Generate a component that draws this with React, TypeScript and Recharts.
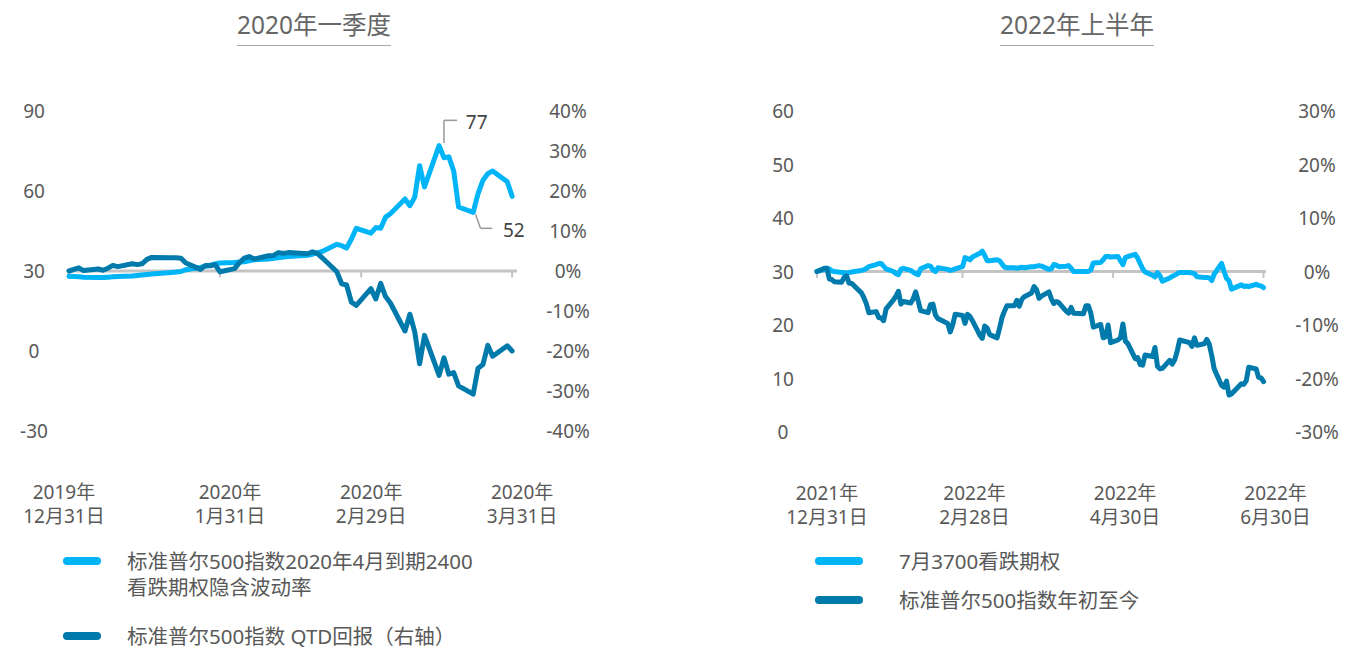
import React from 'react'
import { LineChart, Line, XAxis, YAxis, ReferenceLine, ReferenceDot } from 'recharts'

const FONT = '"Noto Sans", "Noto Sans CJK SC", sans-serif'
const TEXT = '#595959'
const LIGHT = '#00b4f8'
const DARK = '#0079ab'
const AXIS = '#c4c4c4'

// ---- 2020 Q1 (x = calendar days since 2019-12-31, trading days only)
const q1Days = [
  0, 2, 3, 6, 7, 8, 9, 10,
  13, 14, 15, 16, 17,
  21, 22, 23, 24,
  27, 28, 29, 30, 31,
  34, 35, 36, 37, 38,
  41, 42, 43, 44, 45,
  49, 50, 51, 52,
  55, 56, 57, 58, 59,
  62, 63, 64, 65, 66,
  69, 70, 71, 72, 73,
  76, 77, 78, 79, 80,
  83, 84, 85, 86, 87,
  90, 91,
]
// S&P 500 Apr-2020 2400 put implied vol (left axis)
const q1PutVol = [
  28.0, 27.8, 27.7, 27.6, 27.6, 27.7, 27.8, 27.9,
  28.1, 28.3, 28.5, 28.7, 28.9,
  29.4, 29.6, 29.8, 30.5,
  31.3, 31.8, 32.2, 32.6, 33.0,
  33.2, 33.4, 33.5, 33.8, 34.2,
  34.5, 34.8, 35.0, 35.2, 35.4,
  35.9, 36.3, 36.8, 37.3,
  40.0, 39.5, 38.6, 42.0, 46.0,
  44.2, 46.3, 46.0, 50.2, 51.5,
  57.0, 54.5, 57.7, 69.5, 61.5,
  77.0, 72.5, 72.8, 67.5, 54.0,
  52.0, 59.0, 64.0, 66.5, 67.5,
  63.5, 58.0,
]
// S&P 500 QTD return, % (right axis)
const q1Return = [
  0, 0.8, 0.1, 0.5, 0.2, 0.7, 1.4, 1.1,
  1.8, 1.6, 1.8, 2.9, 3.4,
  3.3, 3.3, 3.2, 2.0,
  0.4, 1.4, 1.3, 1.6, -0.2,
  0.6, 2.1, 3.2, 3.6, 3.0,
  3.8, 3.9, 4.6, 4.4, 4.6,
  4.3, 4.8, 4.4, 3.3,
  -0.2, -3.2, -3.5, -7.8, -8.6,
  -4.4, -7.0, -3.1, -6.4, -8.0,
  -15.0, -10.8, -15.2, -23.2, -16.1,
  -26.1, -21.7, -25.8, -25.4, -28.7,
  -30.8, -24.3, -23.4, -18.6, -21.3,
  -18.7, -20.0,
]
const q1TickDays = [0, 31, 60, 91]
const q1TickLabels = [
  ['2019年', '12月31日'],
  ['2020年', '1月31日'],
  ['2020年', '2月29日'],
  ['2020年', '3月31日'],
]
const q1VolTicks = [-30, 0, 30, 60, 90]
const q1RetTicks = [-40, -30, -20, -10, 0, 10, 20, 30, 40]

// ---- 2022 H1 (x = calendar days since 2021-12-31, trading days only)
const h1Days = [
  0,
  3, 4, 5, 6, 7,
  10, 11, 12, 13, 14,
  18, 19, 20, 21,
  24, 25, 26, 27, 28,
  31, 32, 33, 34, 35,
  38, 39, 40, 41, 42,
  45, 46, 47, 48, 49,
  53, 54, 55, 56,
  59, 60, 61, 62, 63,
  66, 67, 68, 69, 70,
  73, 74, 75, 76, 77,
  80, 81, 82, 83, 84,
  87, 88, 89, 90, 91,
  94, 95, 96, 97, 98,
  101, 102, 103, 104,
  108, 109, 110, 111, 112,
  115, 116, 117, 118, 119,
  122, 123, 124, 125, 126,
  129, 130, 131, 132, 133,
  136, 137, 138, 139, 140,
  143, 144, 145, 146, 147,
  151, 152, 153, 154,
  157, 158, 159, 160, 161,
  164, 165, 166, 167, 168,
  172, 173, 174, 175,
  178, 179, 180, 181,
]
// July 3700 put implied vol (left axis)
const h1PutVol = [
  30.0,
  30.4, 30.6, 30.5, 30.1, 30.0,
  29.8, 29.8, 29.7, 29.8, 29.9,
  30.2, 30.3, 30.6, 30.9,
  31.3, 31.5, 31.5, 31.0, 30.5,
  30.0, 29.6, 29.4, 30.4, 30.6,
  30.2, 29.9, 29.6, 29.4, 30.5,
  31.1, 31.0, 30.3, 30.0, 30.7,
  30.4, 30.2, 30.3, 30.5,
  30.9, 32.6, 32.4, 32.2, 32.7,
  33.4, 33.8, 33.0, 32.0, 32.0,
  32.2, 32.0, 31.4, 30.8, 30.7,
  30.7, 30.6, 30.7, 30.8, 30.7,
  30.9, 30.9, 31.0, 31.1, 31.0,
  30.4, 30.5, 31.3, 31.2, 30.9,
  31.0, 31.1, 30.6, 30.0,
  30.0, 30.0, 30.0, 30.3, 31.6,
  31.7, 32.2, 32.8, 32.8, 32.7,
  32.8, 32.0, 31.3, 32.6, 32.8,
  33.2, 32.5, 31.5, 30.5, 29.9,
  29.3, 29.0, 29.8, 29.2, 28.2,
  28.8, 29.1, 29.3, 29.6, 29.8,
  29.8, 29.7, 29.6, 29.0,
  28.9, 28.9, 28.8, 28.3, 29.5,
  31.5, 30.0, 28.7, 28.3, 26.7,
  27.5, 27.2, 27.3, 27.2,
  27.6, 27.4, 27.3, 27.0,
]
// S&P 500 YTD return, % (right axis)
const h1Return = [
  0,
  0.6, 0.6, -1.4, -1.5, -1.9,
  -2.0, -1.1, -0.8, -2.2, -2.2,
  -4.0, -4.9, -6.0, -7.7,
  -7.5, -8.6, -8.7, -9.2, -7.0,
  -5.3, -4.6, -3.7, -6.1, -5.6,
  -5.9, -5.1, -3.8, -5.5, -7.3,
  -7.7, -6.2, -6.1, -8.1, -8.8,
  -9.7, -11.3, -10.0, -8.0,
  -8.2, -9.7, -8.0, -8.4, -9.2,
  -11.9, -12.5, -10.2, -10.6, -11.8,
  -12.4, -10.6, -8.6, -7.4, -6.4,
  -6.4, -5.4, -6.5, -5.2, -4.7,
  -4.0, -2.8, -3.4, -5.0, -4.6,
  -3.8, -5.1, -6.0, -5.6, -5.8,
  -7.4, -7.8, -6.7, -7.8,
  -7.9, -6.4, -6.4, -7.8, -10.4,
  -9.9, -12.4, -12.2, -10.0, -13.3,
  -12.8, -12.4, -9.8, -13.0, -13.5,
  -16.3, -16.1, -17.4, -17.5, -15.6,
  -15.9, -14.2, -17.7, -18.2, -18.1,
  -16.6, -17.3, -16.5, -14.9, -12.8,
  -13.3, -14.0, -12.4, -13.8,
  -13.5, -12.7, -13.6, -15.7, -18.2,
  -21.3, -21.6, -20.5, -23.1, -22.9,
  -21.0, -21.1, -20.4, -17.9,
  -18.2, -19.8, -19.9, -20.6,
]
const h1TickDays = [0, 59, 120, 181]
const h1TickLabels = [
  ['2021年', '12月31日'],
  ['2022年', '2月28日'],
  ['2022年', '4月30日'],
  ['2022年', '6月30日'],
]
const h1VolTicks = [0, 10, 20, 30, 40, 50, 60]
const h1RetTicks = [-30, -20, -10, 0, 10, 20, 30]

const q1Rows = q1Days.map((day, i) => ({ day, vol: q1PutVol[i], ret: q1Return[i] }))
const h1Rows = h1Days.map((day, i) => ({ day, vol: h1PutVol[i], ret: h1Return[i] }))

function YTick(props: any) {
  const { x, y, payload, dx, suffix = '' } = props
  return (
    <text x={x + dx} y={y} textAnchor="middle" dominantBaseline="central"
      fill={TEXT} fontSize={19} fontFamily={FONT}>
      {payload.value}{suffix}
    </text>
  )
}

function XTick(props: any) {
  const { x, y, payload, days, labels, firstShift, shift } = props
  const i = days.indexOf(payload.value)
  if (i < 0) return null
  const cx = x + (i === 0 ? firstShift : shift)
  return (
    <g fill={TEXT} fontSize={19} fontFamily={FONT}>
      <text x={cx} y={y + 61} textAnchor="middle" dominantBaseline="central">{labels[i][0]}</text>
      <text x={cx} y={y + 85} textAnchor="middle" dominantBaseline="central">{labels[i][1]}</text>
    </g>
  )
}

function Callout({ cx, cy, text }: any) {
  return (
    <text x={cx} y={cy} dominantBaseline="central" fill="#444" fontSize={19} fontFamily={FONT}>
      {text}
    </text>
  )
}

function Title({ center, text }: { center: number; text: string }) {
  return (
    <div style={{ position: 'absolute', left: center - 200, top: 9, width: 400, textAlign: 'center' }}>
      <span style={{
        display: 'inline-block', fontSize: 24.5, lineHeight: '31px', color: '#666',
        fontFamily: FONT, borderBottom: '1.5px solid #aaa', paddingBottom: 5,
      }}>{text}</span>
    </div>
  )
}

function LegendItem({ left, top, width, textLeft, color, lines }: any) {
  return (
    <>
      <div style={{ position: 'absolute', left, top: top - 4, width, height: 8, borderRadius: 4, background: color }} />
      <div style={{
        position: 'absolute', left: textLeft, top: top - 13, fontSize: 20.5, lineHeight: '26px',
        color: TEXT, fontFamily: FONT, whiteSpace: 'nowrap',
      }}>
        {lines.map((l: string) => <div key={l}>{l}</div>)}
      </div>
    </>
  )
}

export default function App() {
  return (
    <div style={{ position: 'absolute', left: 0, top: 0, width: 1354, height: 650, background: '#fff', overflow: 'hidden' }}>
      <Title center={314} text="2020年一季度" />
      <Title center={1077} text="2022年上半年" />

      <div style={{ position: 'absolute', left: 0, top: 0 }}>
        <LineChart width={600} height={540} data={q1Rows} margin={{ top: 111, right: 0, bottom: 9, left: 0 }}>
          <XAxis dataKey="day" type="number" domain={[0, 92]} ticks={q1TickDays} interval={0}
            axisLine={false} tickLine={false} tickSize={0} tickMargin={0} height={100}
            tick={(p: any) => <XTick {...p} days={q1TickDays} labels={q1TickLabels} firstShift={-5} shift={10} />} />
          <YAxis yAxisId="vol" orientation="left" domain={[-30, 90]} ticks={q1VolTicks} interval={0}
            width={69} axisLine={false} tickLine={false} tickSize={0} tickMargin={0}
            tick={(p: any) => <YTick {...p} dx={-35} />} />
          <YAxis yAxisId="ret" orientation="right" domain={[-40, 40]} ticks={q1RetTicks} interval={0}
            width={83} axisLine={false} tickLine={false} tickSize={0} tickMargin={0}
            tick={(p: any) => <YTick {...p} dx={51} suffix="%" />} />

          <ReferenceLine yAxisId="ret" y={0} stroke={AXIS} strokeWidth={3} />
          {q1TickDays.map((d) => (
            <ReferenceLine key={d} yAxisId="ret" segment={[{ x: d, y: 0 }, { x: d, y: -1.6 }]} stroke={AXIS} strokeWidth={2} />
          ))}

          <Line yAxisId="vol" dataKey="vol" stroke={LIGHT} strokeWidth={5} dot={false}
            strokeLinejoin="round" strokeLinecap="round" isAnimationActive={false} />
          <Line yAxisId="ret" dataKey="ret" stroke={DARK} strokeWidth={5} dot={false}
            strokeLinejoin="round" strokeLinecap="round" isAnimationActive={false} />

          {/* callouts for the peak and the post-peak low */}
          <ReferenceLine yAxisId="vol" segment={[{ x: 77, y: 78 }, { x: 77, y: 86.5 }]} stroke="#999" strokeWidth={1.5} />
          <ReferenceLine yAxisId="vol" segment={[{ x: 77, y: 86.5 }, { x: 79.7, y: 86.5 }]} stroke="#999" strokeWidth={1.5} />
          <ReferenceDot yAxisId="vol" x={81.5} y={86} r={0} shape={(p: any) => <Callout {...p} text="77" />} />
          <ReferenceLine yAxisId="vol" segment={[{ x: 83.5, y: 51.2 }, { x: 84.5, y: 46 }]} stroke="#999" strokeWidth={1.5} />
          <ReferenceLine yAxisId="vol" segment={[{ x: 84.5, y: 46 }, { x: 86.9, y: 46 }]} stroke="#999" strokeWidth={1.5} />
          <ReferenceDot yAxisId="vol" x={89.1} y={45.4} r={0} shape={(p: any) => <Callout {...p} text="52" />} />
        </LineChart>
      </div>

      <div style={{ position: 'absolute', left: 700, top: 0 }}>
        <LineChart width={654} height={540} data={h1Rows} margin={{ top: 111, right: 0, bottom: 8, left: 0 }}>
          <XAxis dataKey="day" type="number" domain={[0, 182]} ticks={h1TickDays} interval={0}
            axisLine={false} tickLine={false} tickSize={0} tickMargin={0} height={100}
            tick={(p: any) => <XTick {...p} days={h1TickDays} labels={h1TickLabels} firstShift={10} shift={12} />} />
          <YAxis yAxisId="vol" orientation="left" domain={[0, 60]} ticks={h1VolTicks} interval={0}
            width={117} axisLine={false} tickLine={false} tickSize={0} tickMargin={0}
            tick={(p: any) => <YTick {...p} dx={-34} />} />
          <YAxis yAxisId="ret" orientation="right" domain={[-30, 30]} ticks={h1RetTicks} interval={0}
            width={88} axisLine={false} tickLine={false} tickSize={0} tickMargin={0}
            tick={(p: any) => <YTick {...p} dx={51} suffix="%" />} />

          <ReferenceLine yAxisId="ret" y={0} stroke={AXIS} strokeWidth={3} />
          {h1TickDays.map((d) => (
            <ReferenceLine key={d} yAxisId="ret" segment={[{ x: d, y: 0 }, { x: d, y: -1.2 }]} stroke={AXIS} strokeWidth={2} />
          ))}

          <Line yAxisId="vol" dataKey="vol" stroke={LIGHT} strokeWidth={5} dot={false}
            strokeLinejoin="round" strokeLinecap="round" isAnimationActive={false} />
          <Line yAxisId="ret" dataKey="ret" stroke={DARK} strokeWidth={5} dot={false}
            strokeLinejoin="round" strokeLinecap="round" isAnimationActive={false} />
        </LineChart>
      </div>

      <LegendItem left={63} top={561} width={38} textLeft={127} color={LIGHT}
        lines={['标准普尔500指数2020年4月到期2400', '看跌期权隐含波动率']} />
      <LegendItem left={63} top={636} width={38} textLeft={127} color={DARK}
        lines={['标准普尔500指数 QTD回报（右轴）']} />
      <LegendItem left={815} top={561} width={48} textLeft={899} color={LIGHT}
        lines={['7月3700看跌期权']} />
      <LegendItem left={815} top={600} width={48} textLeft={899} color={DARK}
        lines={['标准普尔500指数年初至今']} />
    </div>
  )
}
